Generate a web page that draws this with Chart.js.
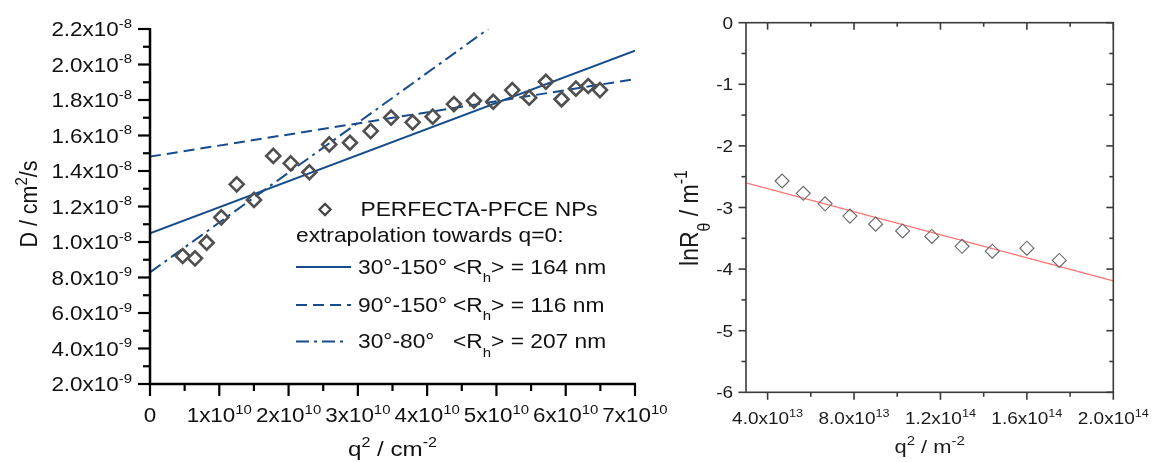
<!DOCTYPE html>
<html>
<head>
<meta charset="utf-8">
<script src="https://cdn.jsdelivr.net/npm/chart.js@4.4.1/dist/chart.umd.min.js"></script>
<style>
  body { margin: 0; background: #fff; }
  #wrap { position: relative; width: 1152px; height: 462px; }
  #wrap canvas { position: absolute; left: 0; top: 0; }
</style>
</head>
<body>
<div id="wrap">
  <canvas id="diffusion" width="1152" height="462"></canvas>
  <canvas id="lnr" width="1152" height="462"></canvas>
</div>
<script>
// ---- diffusion coefficient vs q^2 (DLS) ----
var q2cm = [4.72e9, 6.49e9, 8.18e9, 1.029e10, 1.251e10, 1.501e10, 1.779e10, 2.03e10, 2.30e10,
            2.587e10, 2.886e10, 3.185e10, 3.48e10, 3.79e10, 4.08e10, 4.387e10, 4.675e10,
            4.954e10, 5.228e10, 5.473e10, 5.714e10, 5.94e10, 6.147e10, 6.325e10, 6.494e10];
var diffD = [9.21e-9, 9.08e-9, 9.96e-9, 1.139e-8, 1.325e-8, 1.237e-8, 1.485e-8, 1.443e-8, 1.393e-8,
             1.550e-8, 1.559e-8, 1.625e-8, 1.701e-8, 1.674e-8, 1.706e-8, 1.777e-8, 1.796e-8,
             1.790e-8, 1.856e-8, 1.813e-8, 1.903e-8, 1.804e-8, 1.864e-8, 1.879e-8, 1.856e-8];

// linear extrapolations towards q = 0 (end points of each fit line)
var fitRanges = ['30°-150°', '90°-150°', '30°-80°'];
var fitRh = [164, 116, 207];
var fitQ2 = [[0, 7e10], [0, 7e10], [0, 4.88e10]];
var fitD = [[1.049e-8, 2.078e-8], [1.481e-8, 1.918e-8], [8.29e-9, 2.2e-8]];

var dTicks = [2e-9, 4e-9, 6e-9, 8e-9, 1e-8, 1.2e-8, 1.4e-8, 1.6e-8, 1.8e-8, 2e-8, 2.2e-8];
var dTickMant = ['2.0', '4.0', '6.0', '8.0', '1.0', '1.2', '1.4', '1.6', '1.8', '2.0', '2.2'];
var dTickExp = ['-9', '-9', '-9', '-9', '-8', '-8', '-8', '-8', '-8', '-8', '-8'];
var dMinor = [3e-9, 5e-9, 7e-9, 9e-9, 1.1e-8, 1.3e-8, 1.5e-8, 1.7e-8, 1.9e-8, 2.1e-8];
var qcmTicks = [0, 1e10, 2e10, 3e10, 4e10, 5e10, 6e10, 7e10];
var qcmTickMant = ['0', '1x10', '2x10', '3x10', '4x10', '5x10', '6x10', '7x10'];
var qcmTickExp = ['', '10', '10', '10', '10', '10', '10', '10'];
var qcmMinor = [5e9, 1.5e10, 2.5e10, 3.5e10, 4.5e10, 5.5e10, 6.5e10];

// ---- ln R(theta) vs q^2 (SLS) ----
var q2m = [4.67e13, 5.65e13, 6.66e13, 7.81e13, 9.0e13, 1.025e14, 1.16e14, 1.30e14, 1.44e14, 1.60e14, 1.75e14];
var lnR = [-2.57, -2.77, -2.94, -3.14, -3.27, -3.38, -3.47, -3.63, -3.71, -3.66, -3.86];
var lnRFitQ2 = [3e13, 2e14];
var lnRFit = [-2.60, -4.19];

var lnTicks = [0, -1, -2, -3, -4, -5, -6];
var lnTickText = ['0', '-1', '-2', '-3', '-4', '-5', '-6'];
var lnMinor = [-0.5, -1.5, -2.5, -3.5, -4.5, -5.5];
var qmTicks = [4e13, 8e13, 1.2e14, 1.6e14, 2e14];
var qmTickMant = ['4.0x10', '8.0x10', '1.2x10', '1.6x10', '2.0x10'];
var qmTickExp = ['13', '13', '14', '14', '14'];
var qmMinor = [6e13, 1e14, 1.4e14, 1.8e14];

var BLUE = '#174c8c';
var FONT = '"Liberation Sans", Arial, Helvetica, sans-serif';
var SX = 1.15; // text in this figure is set slightly wide

function pts(xs, ys) {
  return xs.map(function (x, i) { return {x: x, y: ys[i]}; });
}

// draw a run of text pieces: {t, sup} raised, {t, sub} lowered
function drawRich(ctx, parts, x, y, size, align, rotate, color) {
  var small = Math.round(size * 0.68);
  ctx.save();
  ctx.translate(x, y);
  ctx.scale(SX, 1);
  if (rotate) ctx.rotate(rotate);
  ctx.fillStyle = color || '#111';
  ctx.textAlign = 'left';
  ctx.textBaseline = 'alphabetic';
  var w = 0;
  parts.forEach(function (p) {
    ctx.font = ((p.sup || p.sub) ? small : size) + 'px ' + FONT;
    w += ctx.measureText(p.t).width;
  });
  var cx = align === 'right' ? -w : (align === 'center' ? -w / 2 : 0);
  parts.forEach(function (p) {
    ctx.font = ((p.sup || p.sub) ? small : size) + 'px ' + FONT;
    var dy = p.sup ? -size * 0.42 : (p.sub ? size * 0.45 : 0);
    ctx.fillText(p.t, cx, dy);
    cx += ctx.measureText(p.t).width;
  });
  ctx.restore();
}

function tickLabel(mant, exp) {
  return exp ? [{t: mant}, {t: exp, sup: true}] : [{t: mant}];
}

function tick(ctx, x1, y1, x2, y2) {
  ctx.beginPath();
  ctx.moveTo(x1, y1);
  ctx.lineTo(x2, y2);
  ctx.stroke();
}

function diamond(ctx, x, y, r) {
  ctx.beginPath();
  ctx.moveTo(x - r, y);
  ctx.lineTo(x, y - r);
  ctx.lineTo(x + r, y);
  ctx.lineTo(x, y + r);
  ctx.closePath();
  ctx.stroke();
}

// open L-shaped axes, outward ticks, legend inside the plot
var diffusionFrame = {
  id: 'diffusionFrame',
  afterDraw: function (chart) {
    var ctx = chart.ctx, a = chart.chartArea;
    var xs = chart.scales.x, ys = chart.scales.y;
    ctx.save();
    ctx.strokeStyle = '#000';
    ctx.lineWidth = 2.5;
    ctx.beginPath();
    ctx.moveTo(a.left, a.top - 1);
    ctx.lineTo(a.left, a.bottom);
    ctx.lineTo(a.right + 1, a.bottom);
    ctx.stroke();

    ctx.lineWidth = 2.2;
    dTicks.forEach(function (v, i) {
      var y = ys.getPixelForValue(v);
      tick(ctx, a.left - 12, y, a.left, y);
      drawRich(ctx, tickLabel(dTickMant[i] + 'x10', dTickExp[i]), a.left - 18, y + 7, 19.5, 'right');
    });
    dMinor.forEach(function (v) {
      var y = ys.getPixelForValue(v);
      tick(ctx, a.left - 7, y, a.left, y);
    });
    qcmTicks.forEach(function (v, i) {
      var x = xs.getPixelForValue(v);
      tick(ctx, x, a.bottom, x, a.bottom + 12);
      drawRich(ctx, tickLabel(qcmTickMant[i], qcmTickExp[i]), x, a.bottom + 38, 19.5, 'center');
    });
    qcmMinor.forEach(function (v) {
      var x = xs.getPixelForValue(v);
      tick(ctx, x, a.bottom, x, a.bottom + 7);
    });

    // axis titles
    drawRich(ctx, [{t: 'q'}, {t: '2', sup: true}, {t: ' / cm'}, {t: '-2', sup: true}],
      (a.left + a.right) / 2, 456, 21, 'center');
    drawRich(ctx, [{t: 'D / cm'}, {t: '2', sup: true}, {t: '/s'}],
      37, 204, 21.5, 'center', -Math.PI / 2);

    // legend
    var lx = 296, sx = 358, rx = 453, fs = 19.8;
    ctx.strokeStyle = '#444';
    ctx.lineWidth = 2.2;
    diamond(ctx, 325, 209.5, 5.6);
    drawRich(ctx, [{t: chart.data.datasets[0].label}], 360.5, 215.7, fs, 'left');
    drawRich(ctx, [{t: 'extrapolation towards q=0:'}], lx, 241.7, fs, 'left');
    var rows = [273.5, 311.5, 348];
    fitRanges.forEach(function (rng, i) {
      var ds = chart.data.datasets[i + 1];
      var ly = rows[i] - 6.5;
      ctx.save();
      ctx.strokeStyle = ds.borderColor;
      ctx.lineWidth = ds.borderWidth;
      ctx.setLineDash(ds.borderDash || []);
      tick(ctx, lx, ly, i === 2 ? 347 : 351, ly);
      ctx.restore();
      drawRich(ctx, [{t: rng}], sx, rows[i], fs, 'left');
      drawRich(ctx, [{t: '<R'}, {t: 'h', sub: true}, {t: '> = ' + fitRh[i] + ' nm'}], rx, rows[i], fs, 'left');
    });
    ctx.restore();
  }
};

// closed box, mirrored ticks on top and right pointing inwards
var lnrFrame = {
  id: 'lnrFrame',
  afterDraw: function (chart) {
    var ctx = chart.ctx, a = chart.chartArea;
    var xs = chart.scales.x, ys = chart.scales.y;
    ctx.save();
    ctx.strokeStyle = '#3a3a3a';
    ctx.lineWidth = 1.6;
    ctx.strokeRect(a.left, a.top, a.right - a.left, a.bottom - a.top);

    lnTicks.forEach(function (v, i) {
      var y = ys.getPixelForValue(v);
      tick(ctx, a.left - 7.5, y, a.left, y);
      tick(ctx, a.right - 7, y, a.right, y);
      drawRich(ctx, [{t: lnTickText[i]}], a.left - 13, y + 6, 16.5, 'right', 0, '#1a1a1a');
    });
    lnMinor.forEach(function (v) {
      var y = ys.getPixelForValue(v);
      tick(ctx, a.left - 4.5, y, a.left, y);
      tick(ctx, a.right - 4, y, a.right, y);
    });
    qmTicks.forEach(function (v, i) {
      var x = xs.getPixelForValue(v);
      tick(ctx, x, a.bottom, x, a.bottom + 7.5);
      tick(ctx, x, a.top, x, a.top + 7);
      drawRich(ctx, tickLabel(qmTickMant[i], qmTickExp[i]), x, a.bottom + 31.7, 16.5, 'center', 0, '#1a1a1a');
    });
    qmMinor.forEach(function (v) {
      var x = xs.getPixelForValue(v);
      tick(ctx, x, a.bottom, x, a.bottom + 4.5);
      tick(ctx, x, a.top, x, a.top + 4);
    });

    drawRich(ctx, [{t: 'q'}, {t: '2', sup: true}, {t: ' / m'}, {t: '-2', sup: true}],
      (a.left + a.right) / 2, 453, 19, 'center', 0, '#1a1a1a');
    drawRich(ctx, [{t: 'lnR'}, {t: 'θ', sub: true}, {t: ' / m'}, {t: '-1', sup: true}],
      698, 218, 23, 'center', -Math.PI / 2, '#1a1a1a');
    ctx.restore();
  }
};

var fitStyles = [[], [11, 6], [13, 5, 3, 5]];
var diffSets = [{
  label: 'PERFECTA-PFCE NPs',
  data: pts(q2cm, diffD),
  pointStyle: 'rectRot',
  pointRadius: 7,
  pointBorderWidth: 2.6,
  pointBorderColor: '#4f4f4f',
  pointBackgroundColor: 'rgba(0,0,0,0)',
  showLine: false
}];
fitRanges.forEach(function (rng, i) {
  diffSets.push({
    label: rng,
    data: pts(fitQ2[i], fitD[i]),
    showLine: true,
    borderColor: BLUE,
    borderWidth: 2,
    borderDash: fitStyles[i],
    pointRadius: 0
  });
});

new Chart(document.getElementById('diffusion'), {
  type: 'scatter',
  data: {datasets: diffSets},
  options: {
    responsive: false,
    animation: false,
    events: [],
    layout: {padding: {left: 150, right: 517, top: 29, bottom: 78}},
    scales: {
      x: {type: 'linear', min: 0, max: 7e10, display: false},
      y: {type: 'linear', min: 2e-9, max: 2.2e-8, display: false}
    },
    plugins: {legend: {display: false}, tooltip: {enabled: false}}
  },
  plugins: [diffusionFrame]
});

new Chart(document.getElementById('lnr'), {
  type: 'scatter',
  data: {
    datasets: [{
      label: 'lnR',
      data: pts(q2m, lnR),
      pointStyle: 'rectRot',
      pointRadius: 7,
      pointBorderWidth: 1.1,
      pointBorderColor: '#666',
      pointBackgroundColor: 'rgba(0,0,0,0)',
      showLine: false
    }, {
      label: 'linear fit',
      data: pts(lnRFitQ2, lnRFit),
      showLine: true,
      borderColor: '#ff7272',
      borderWidth: 1.2,
      pointRadius: 0
    }]
  },
  options: {
    responsive: false,
    animation: false,
    events: [],
    layout: {padding: {left: 746, right: 38.7, top: 22.7, bottom: 69.7}},
    scales: {
      x: {type: 'linear', min: 3e13, max: 2e14, display: false},
      y: {type: 'linear', min: -6, max: 0, display: false}
    },
    plugins: {legend: {display: false}, tooltip: {enabled: false}}
  },
  plugins: [lnrFrame]
});
</script>
</body>
</html>
